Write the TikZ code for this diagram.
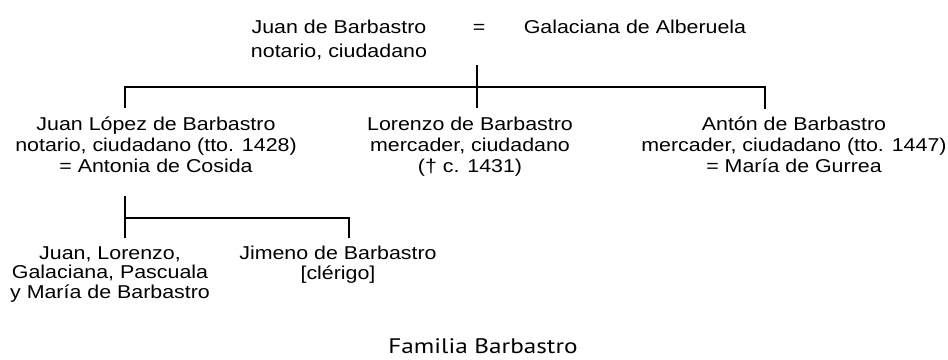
\documentclass[tikz,border=0pt]{standalone}
\usepackage{fontspec}
\setmainfont{Liberation Sans}[FakeStretch=1.15]
\newfontfamily\capfont{PT Sans}[FakeStretch=1.2]
\begin{document}
\begin{tikzpicture}[x=1pt,y=-1pt,
  person/.style={anchor=base, align=center, inner sep=0pt, font=\fontsize{18.6}{21}\selectfont},
  persontop/.style={person, font=\fontsize{18.6}{24}\selectfont},
  personlow/.style={person, font=\fontsize{18.6}{19.5}\selectfont},
  kin/.style={line width=1.6pt, line cap=butt}]
\useasboundingbox (0,0) rectangle (948,359);
% top couple (base anchor = baseline of the last line)
\node[persontop] (jb) at (339,57) {Juan de Barbastro\\notario, ciudadano};
\node[persontop] (eq) at (479,33) {=};
\node[persontop] (ga) at (635,33) {Galaciana de Alberuela};
% children
\node[person] (jl) at (156,172) {Juan López de Barbastro\\notario, ciudadano (tto. 1428)\\= Antonia de Cosida};
\node[person] (lo) at (470,172) {Lorenzo de Barbastro\\mercader, ciudadano\\(† c. 1431)};
\node[person] (an) at (794,172) {Antón de Barbastro\\mercader, ciudadano (tto. 1447)\\= María de Gurrea};
% grandchildren
\node[personlow] (jn) at (110,298) {Juan, Lorenzo,\\Galaciana, Pascuala\\y María de Barbastro};
\node[personlow] (ji) at (338,279) {Jimeno de Barbastro\\{[clérigo]}};
% caption
\node[anchor=base, inner sep=0pt, font=\capfont\fontsize{21}{24}\selectfont] (cap) at (483,353) {Familia Barbastro};
% connector points
\coordinate (mtop) at (477,65);
\coordinate (mbot) at (477,108);
\coordinate (barL) at (125,87);
\coordinate (barR) at (765,87);
\coordinate (jlTop) at (125,108);
\coordinate (anTop) at (765,109);
\coordinate (jlBot) at (125,196);
\coordinate (sbL) at (125,218);
\coordinate (sbR) at (349,218);
\coordinate (jnTop) at (125,238);
\coordinate (jiTop) at (349,238);
% connectors
\draw[kin] (mtop) -- (mbot);
\draw[kin] (jlTop) -- (barL) -- (barR) -- (anTop);
\draw[kin] (jlBot) -- (jnTop);
\draw[kin] (sbL) -- (sbR) -- (jiTop);
\end{tikzpicture}
\end{document}
